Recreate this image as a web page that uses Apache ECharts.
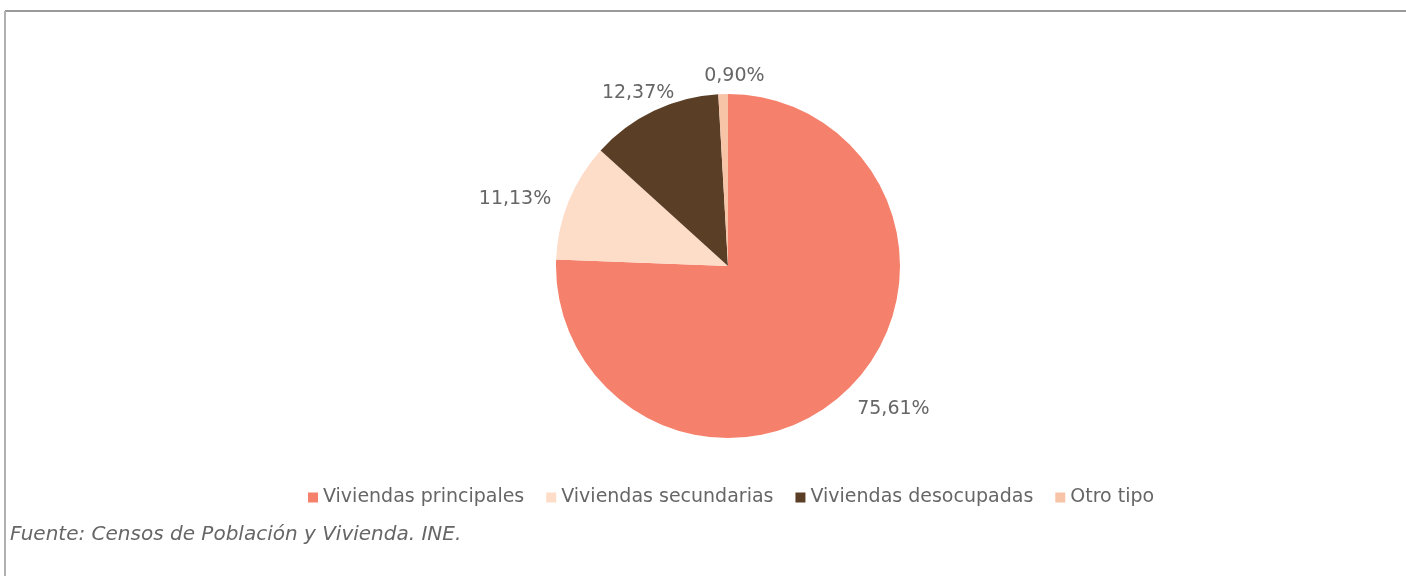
<!DOCTYPE html>
<html>
<head>
<meta charset="utf-8">
<script src="https://cdn.jsdelivr.net/npm/echarts@6/dist/echarts.min.js"></script>
<style>
html,body{margin:0;padding:0;background:#fff;}
#chart{width:1406px;height:576px;}
</style>
</head>
<body>
<div id="chart"></div>
<script>
const categories = ['Viviendas principales', 'Viviendas secundarias', 'Viviendas desocupadas', 'Otro tipo'];
const values = [75.61, 11.13, 12.37, 0.90];
const labels = ['75,61%', '11,13%', '12,37%', '0,90%'];
const colors = ['#F5806B', '#FDDCC8', '#5B3E26', '#F8C4A8'];
const legendColors = ['#F5806B', '#FDF3E0', '#5B3E26', '#F8B49C'];
const sourceText = 'Fuente: Censos de Población y Vivienda. INE.';
const labelNudge = [[-9, 5], [6, 6], [34, 0], [47, 2]];

const chart = echarts.init(document.getElementById('chart'));
const font = '"DejaVu Sans", "Liberation Sans", Arial, sans-serif';

chart.setOption({
  animation: false,
  color: legendColors,
  legend: {
    top: 483,
    left: 303,
    itemWidth: 10,
    itemHeight: 10,
    itemGap: 22,
    icon: 'rect',
    textStyle: { fontFamily: font, fontSize: 19, color: '#666' },
    data: categories
  },
  graphic: [
    { type: 'line', shape: { x1: 5, y1: 11, x2: 1406, y2: 11 }, style: { stroke: '#9a9a9a', lineWidth: 2 } },
    { type: 'line', shape: { x1: 5, y1: 11, x2: 5, y2: 576 }, style: { stroke: '#b0b0b0', lineWidth: 2 } },
    { type: 'text', left: 10, top: 525, style: { text: sourceText, font: 'italic 20px "DejaVu Sans", "Liberation Sans", Arial, sans-serif', fill: '#666' } }
  ],
  series: [{
    type: 'pie',
    center: [728, 266],
    radius: [0, 172],
    startAngle: 90,
    clockwise: true,
    avoidLabelOverlap: false,
    label: {
      show: true,
      position: 'outside',
      fontFamily: font,
      fontSize: 19,
      color: '#666',
      formatter: p => labels[p.dataIndex]
    },
    labelLine: { show: false, length: 20, length2: 0 },
    labelLayout: p => ({ dx: labelNudge[p.dataIndex][0], dy: labelNudge[p.dataIndex][1] }),
    emphasis: { disabled: true },
    data: categories.map((c, i) => ({
      name: c,
      value: values[i],
      itemStyle: { color: colors[i] }
    }))
  }]
});
</script>
</body>
</html>
